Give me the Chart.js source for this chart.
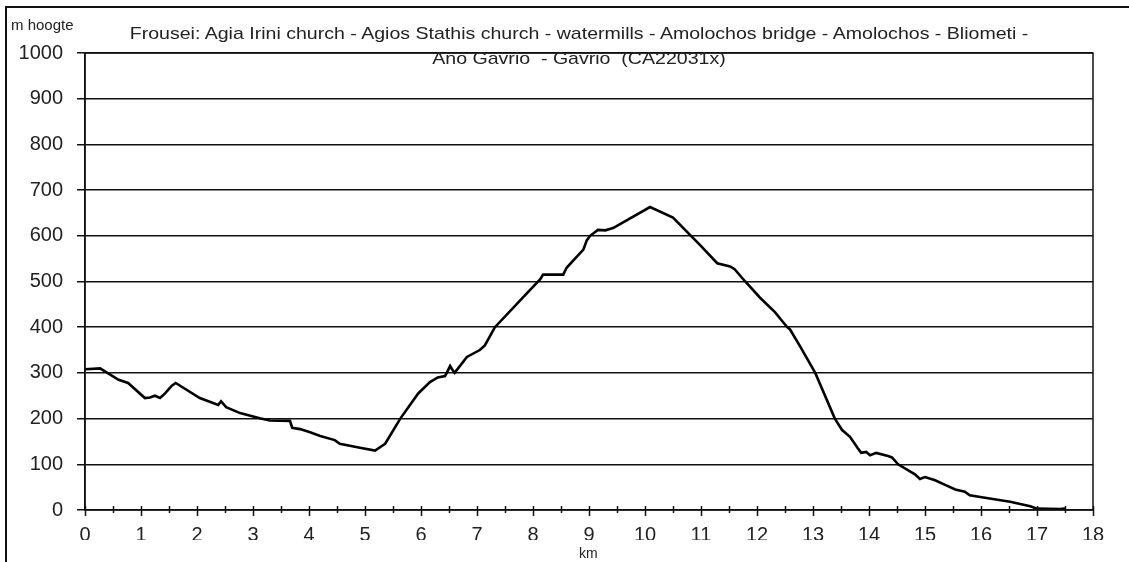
<!DOCTYPE html>
<html>
<head>
<meta charset="utf-8">
<script src="https://cdn.jsdelivr.net/npm/chart.js@4.4.1/dist/chart.umd.min.js"></script>
<style>
    html, body { margin: 0; padding: 0; background: #fff; }
    #wrap { position: relative; width: 1129px; height: 562px; overflow: hidden; }
    #frame { position: absolute; left: 5px; top: 6px; width: 1130px; height: 570px; border-left: 2px solid #111; border-top: 2px solid #111; }
    canvas { position: absolute; left: 0; top: 0; }
    .txt { position: absolute; font-family: "Liberation Sans", Arial, sans-serif; color: #222; white-space: pre; }
    #ylabel { left: 11px; top: 16px; font-size: 15px; }
    #title { left: 0; width: 1158px; top: 21px; font-size: 17px; text-align: center; line-height: 25px; transform: scaleX(1.15); transform-origin: 579px 0; }
    #xlabel { left: 579px; top: 545px; font-size: 14px; }
</style>
</head>
<body>
<div id="wrap">
    <div id="frame"></div>
    <canvas id="chart" width="1129" height="562"></canvas>
    <div class="txt" id="ylabel">m hoogte</div>
    <div class="txt" id="title">Frousei: Agia Irini church - Agios Stathis church - watermills - Amolochos bridge - Amolochos - Bliometi -
Ano Gavrio  - Gavrio  (CA22031x)</div>
    <div class="txt" id="xlabel">km</div>
</div>
<script>
// route profile
const kmValues = [
    0, 0.27, 0.6, 0.77, 1.07, 1.16, 1.25, 1.34, 1.43, 1.5, 1.55, 1.62,
    2.05, 2.38, 2.43, 2.52, 2.77, 3.12, 3.3, 3.66, 3.7, 3.84, 4.02, 4.2,
    4.46, 4.55, 4.91, 5.18, 5.3, 5.36, 5.63, 5.95, 6.16, 6.3, 6.43, 6.52,
    6.57, 6.6, 6.82, 7.05, 7.14, 7.32, 7.86, 8.13, 8.18, 8.54, 8.6, 8.75,
    8.9, 8.96, 9.02, 9.16, 9.29, 9.43, 10.09, 10.5, 10.98, 11.29, 11.52, 11.6,
    11.79, 12.05, 12.32, 12.54, 12.59, 12.77, 13.04, 13.39, 13.52, 13.66, 13.8, 13.86,
    13.95, 14.02, 14.13, 14.34, 14.41, 14.52, 14.82, 14.91, 15.0, 15.18, 15.36, 15.54,
    15.71, 15.8, 16.07, 16.52, 16.88, 17.0, 17.41, 17.5
];
const heightValues = [
    308, 310, 285, 278, 245, 246, 250, 245, 255, 265, 272, 278,
    245, 230, 238, 225, 212, 201, 196, 195, 180, 177, 170, 162,
    153, 145, 136, 130, 140, 145, 200, 255, 280, 290, 293, 315,
    305, 300, 335, 350, 360, 400, 470, 505, 515, 515, 530, 550,
    570, 590, 600, 613, 612, 617, 663, 640, 580, 540, 533, 527,
    500, 465, 433, 400, 395, 358, 300, 200, 175, 160, 135, 125,
    127, 120, 125, 118, 115, 100, 78, 68, 72, 65, 55, 45,
    40, 32, 27, 18, 8, 3, 2, 3
];
const xMin = 0;
const xMax = 18;
const yMin = 0;
const yMax = 1000;

const points = kmValues.map((km, i) => ({ x: km, y: heightValues[i] }));

// border round the plot plus crossing ticks on the km axis
const framePlugin = {
    id: "frame",
    afterDraw(chart) {
        const { ctx, chartArea } = chart;
        const xScale = chart.scales.x;
        ctx.save();
        ctx.strokeStyle = "#111";
        ctx.lineWidth = 1.5;
        ctx.strokeRect(chartArea.left, chartArea.top, chartArea.right - chartArea.left, chartArea.bottom - chartArea.top);
        for (let v = xMin; v <= xMax; v += 0.5) {
            const px = Math.round(xScale.getPixelForValue(v)) + 0.5;
            const major = Number.isInteger(v);
            ctx.beginPath();
            ctx.moveTo(px, chartArea.bottom - 4);
            ctx.lineTo(px, chartArea.bottom + (major ? 6 : 3));
            ctx.stroke();
        }
        ctx.restore();
    }
};

new Chart(document.getElementById("chart"), {
    type: "scatter",
    data: {
        datasets: [{
            data: points,
            showLine: true,
            borderColor: "#000",
            borderWidth: 2.6,
            pointRadius: 0,
            tension: 0
        }]
    },
    options: {
        responsive: false,
        animation: false,
        layout: { padding: { left: 0, top: 53, right: 36, bottom: 22 } },
        plugins: {
            legend: { display: false },
            tooltip: { enabled: false }
        },
        scales: {
            x: {
                type: "linear",
                min: xMin,
                max: xMax,
                afterFit: (scale) => { scale.height = 30; },
                grid: { display: false, drawTicks: false },
                border: { display: false },
                ticks: {
                    stepSize: 1,
                    padding: 13,
                    color: "#222",
                    font: { family: "Liberation Sans", size: 20 },
                    callback: (value) => String(value)
                }
            },
            y: {
                min: yMin,
                max: yMax,
                afterFit: (scale) => { scale.width = 85; },
                grid: { color: "#111", lineWidth: 1.5, tickLength: 8 },
                border: { color: "#111", width: 1.5 },
                ticks: {
                    stepSize: 100,
                    padding: 14,
                    color: "#222",
                    font: { family: "Liberation Sans", size: 20 },
                    callback: (value) => String(value)
                }
            }
        }
    },
    plugins: [framePlugin]
});
</script>
</body>
</html>
